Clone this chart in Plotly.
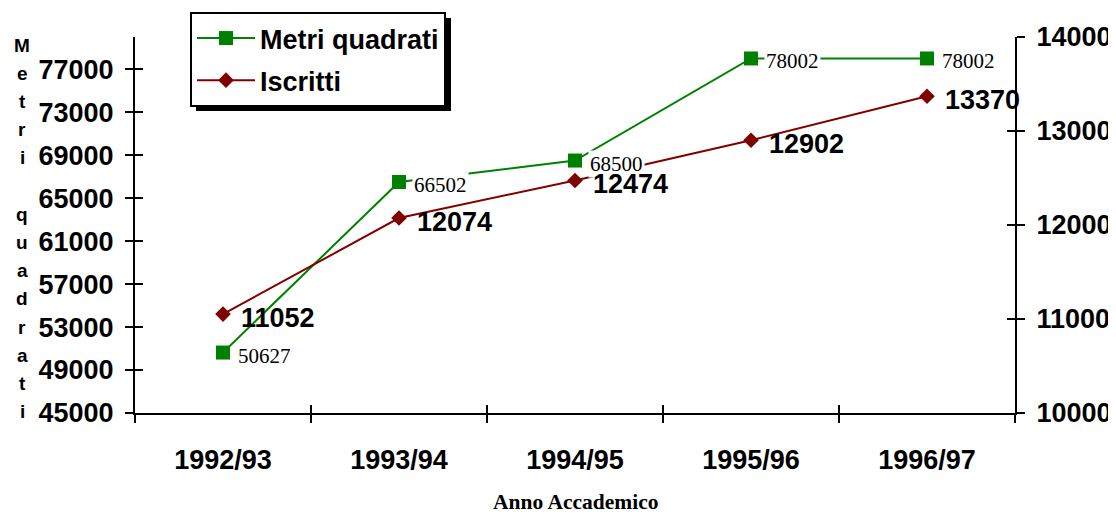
import plotly.graph_objects as go

anni = ["1992/93", "1993/94", "1994/95", "1995/96", "1996/97"]
metri_quadrati = [50627, 66502, 68500, 78002, 78002]
iscritti = [11052, 12074, 12474, 12902, 13370]

# the page puts the figure 8px in from the top-left corner
OFF = 8
W, H = 1116 - OFF, 515 - OFF
X0, X1, Y0, Y1 = 135, 1015, 37, 413  # plot area on the page
PW, PH = X1 - X0, Y1 - Y0

SANS = "Arial, Liberation Sans, sans-serif"
SERIF = "Times New Roman, Liberation Serif, serif"
GREEN = "#008000"
RED = "#800000"


def px_x(p):
    return (p - X0) / PW


def px_y(p):
    return (Y1 - p) / PH


fig = go.Figure()

fig.add_trace(
    go.Scatter(
        x=anni,
        y=metri_quadrati,
        mode="lines+markers",
        name="Metri quadrati",
        line=dict(color=GREEN, width=2),
        marker=dict(symbol="square", size=14, color=GREEN),
        legendgroup="a",
    )
)

fig.add_trace(
    go.Scatter(
        x=anni,
        y=iscritti,
        mode="lines+markers",
        name="Iscritti",
        yaxis="y2",
        line=dict(color=RED, width=2),
        marker=dict(symbol="diamond", size=12, color=RED),
        legendgroup="b",
    )
)

# empty traces so the inner-tick axes get drawn
fig.add_trace(go.Scatter(x=[], y=[], xaxis="x2", yaxis="y3", showlegend=False, hoverinfo="skip"))
fig.add_trace(go.Scatter(x=[], y=[], xaxis="x2", yaxis="y4", showlegend=False, hoverinfo="skip"))

annotations = []
for a, v in zip(anni, metri_quadrati):
    annotations.append(
        dict(
            x=a, y=v, xref="x", yref="y", text=str(v), showarrow=False,
            xanchor="left", yanchor="middle", xshift=13, yshift=-3,
            bgcolor="white", borderpad=1,
            font=dict(family=SERIF, size=21, color="black"),
        )
    )
for a, v in zip(anni, iscritti):
    annotations.append(
        dict(
            x=a, y=v, xref="x", yref="y2", text=str(v), showarrow=False,
            xanchor="left", yanchor="middle", xshift=16, yshift=-4,
            font=dict(family=SANS, size=27, color="black", weight="bold"),
        )
    )

# titolo asse sinistro, una lettera per riga
for i, ch in enumerate("Metri quadrati"):
    if ch == " ":
        continue
    annotations.append(
        dict(
            x=px_x(22), y=px_y(45 + i * 28.2), xref="paper", yref="paper",
            text=ch, showarrow=False, xanchor="center", yanchor="middle",
            font=dict(family=SANS, size=19, color="black", weight="bold"),
        )
    )

annotations.append(
    dict(
        x=0.5, y=px_y(502), xref="paper", yref="paper", text="Anno Accademico",
        showarrow=False, xanchor="center", yanchor="middle",
        font=dict(family=SERIF, size=21.5, color="black", weight="bold"),
    )
)

axis_common = dict(
    showline=True, linecolor="black", linewidth=2, showgrid=False,
    zeroline=False, tickcolor="black", tickwidth=2, ticklen=8,
)
tick_font = dict(family=SANS, size=27, color="black", weight="bold")

fig.update_layout(
    width=W,
    height=H,
    autosize=False,
    margin=dict(l=X0 - OFF, r=1116 - X1, t=Y0 - OFF, b=515 - Y1, autoexpand=False),
    paper_bgcolor="white",
    plot_bgcolor="white",
    xaxis=dict(
        **axis_common, type="category", categoryarray=anni,
        categoryorder="array", range=[-0.5, 4.5], tickson="boundaries",
        ticks="outside", tickfont=tick_font, ticklabelstandoff=22,
    ),
    xaxis2=dict(
        **axis_common, overlaying="x", range=[-0.5, 4.5], tick0=-0.5, dtick=1,
        ticks="inside", showticklabels=False, anchor="y3",
    ),
    yaxis=dict(
        **axis_common, range=[45000, 80000], tick0=45000, dtick=4000,
        ticks="outside", tickformat="d", tickfont=tick_font, ticklabelstandoff=6,
    ),
    yaxis3=dict(
        **axis_common, overlaying="y", range=[45000, 80000], tick0=45000,
        dtick=4000, ticks="inside", showticklabels=False, anchor="x2",
    ),
    yaxis2=dict(
        **axis_common, overlaying="y", side="right", range=[10000, 14000],
        dtick=1000, ticks="outside", tickformat="d", tickfont=tick_font,
        ticklabelstandoff=6,
    ),
    yaxis4=dict(
        **axis_common, overlaying="y", side="right", range=[10000, 14000],
        dtick=1000, ticks="inside", showticklabels=False, anchor="x2",
    ),
    legend=dict(
        x=px_x(190), y=px_y(12), xanchor="left", yanchor="top",
        bgcolor="white", bordercolor="black", borderwidth=2,
        font=dict(family=SANS, size=27, color="black", weight="bold"),
        traceorder="grouped", tracegroupgap=4, itemwidth=58,
    ),
    shapes=[
        dict(
            type="rect", xref="paper", yref="paper",
            x0=px_x(196), x1=px_x(451), y0=px_y(111), y1=px_y(18),
            fillcolor="black", line=dict(width=0), layer="above",
        )
    ],
    annotations=annotations,
)

fig.write_html("out.html")
